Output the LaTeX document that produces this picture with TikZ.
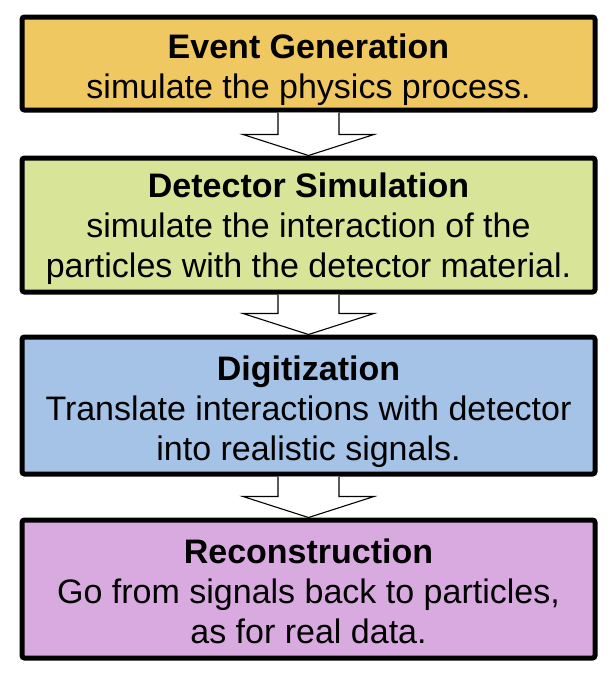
\documentclass[tikz,border=0pt]{standalone}
\usepackage{fontspec}
\setmainfont{Liberation Sans}
\usetikzlibrary{calc}

\definecolor{gencol}{RGB}{240,200,98}
\definecolor{detcol}{RGB}{216,229,152}
\definecolor{digcol}{RGB}{165,195,230}
\definecolor{reccol}{RGB}{217,170,223}

\tikzset{
  stagebox/.style={draw=black, line width=5pt, rounded corners=2.5pt,
    minimum width=573pt, inner sep=0pt},
  stagetext/.style={align=center, inner sep=0pt,
    font=\fontsize{34}{40}\selectfont},
  flowarrow/.style={draw=black, fill=white, line width=1.1pt, line join=miter},
}

\begin{document}
\begin{tikzpicture}[x=1pt, y=-1pt]
  \useasboundingbox[fill=white] (0,0) rectangle (610,694);

  % processing stages
  \node[stagebox, fill=gencol, minimum height=93pt]  (gen) at (308.5,63.5) {};
  \node[stagebox, fill=detcol, minimum height=134pt] (det) at (308.5,225) {};
  \node[stagebox, fill=digcol, minimum height=137pt] (dig) at (308.5,405.5) {};
  \node[stagebox, fill=reccol, minimum height=138pt] (rec) at (308.5,589) {};

  % stage descriptions
  \node[stagetext] (gentxt) at ($(gen.center)+(0,6)$)
    {\textbf{Event Generation}\\simulate the physics process.};
  \node[stagetext] (dettxt) at ($(det.center)+(0,4)$)
    {\textbf{Detector Simulation}\\simulate the interaction of the\\particles with the detector material.};
  \node[stagetext] (digtxt) at ($(dig.center)+(0,6.5)$)
    {\textbf{Digitization}\\Translate interactions with detector\\into realistic signals.};
  \node[stagetext] (rectxt) at ($(rec.center)+(0,2)$)
    {\textbf{Reconstruction}\\Go from signals back to particles,\\as for real data.};

  % hollow block arrows between consecutive stages
  \foreach \a/\b in {gen/det, det/dig, dig/rec}{
    \filldraw[flowarrow]
      ($(\a.south)+(-30.5,0)$) -- ($(\b.north)+(-30.5,-21)$)
      -- ($(\b.north)+(-65.5,-21)$) -- (\b.north)
      -- ($(\b.north)+(65.5,-21)$) -- ($(\b.north)+(30.5,-21)$)
      -- ($(\a.south)+(30.5,0)$);
  }
\end{tikzpicture}
\end{document}
